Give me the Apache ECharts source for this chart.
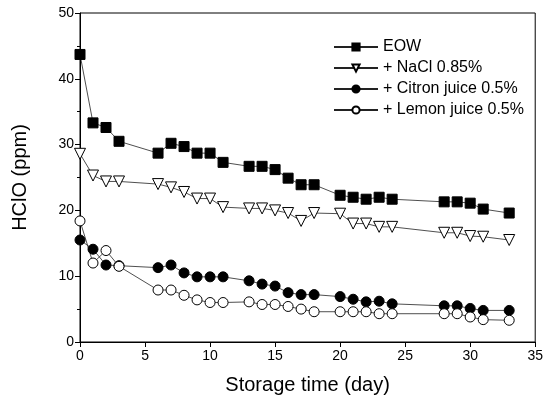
<!DOCTYPE html>
<html><head><meta charset="utf-8">
<script src="https://cdn.jsdelivr.net/npm/echarts@6/dist/echarts.min.js"></script>
<style>html,body{margin:0;padding:0;background:#fff}#c{width:546px;height:409px}</style>
</head><body><div id="c"></div>
<script>
var days = [0,1,2,3,6,7,8,9,10,11,13,14,15,16,17,18,20,21,22,23,24,28,29,30,31,33];
var eow = [43.7,33.3,32.6,30.5,28.7,30.2,29.7,28.7,28.7,27.3,26.7,26.7,26.2,24.9,23.9,23.9,22.3,22.0,21.7,22.0,21.7,21.3,21.3,21.1,20.2,19.6];
var nacl = [28.6,25.3,24.4,24.4,24.0,23.5,22.8,21.8,21.8,20.5,20.3,20.3,20.0,19.6,18.4,19.6,19.5,18.0,18.0,17.5,17.5,16.6,16.6,16.1,16.0,15.5];
var citron = [15.5,14.1,11.7,11.6,11.3,11.7,10.5,9.9,9.9,9.9,9.3,8.8,8.5,7.5,7.2,7.2,6.9,6.5,6.1,6.2,5.8,5.5,5.5,5.1,4.8,4.8];
var lemon = [18.4,12.0,13.9,11.5,7.9,7.9,7.1,6.4,6.0,6.0,6.1,5.7,5.7,5.4,5.0,4.6,4.6,4.6,4.6,4.3,4.3,4.3,4.3,3.8,3.4,3.3];
var names = ['EOW','+ NaCl 0.85%','+ Citron juice 0.5%','+ Lemon juice 0.5%'];

function pairs(v){ return days.map(function(d,i){ return [d, v[i]]; }); }
var font = 'Liberation Sans, Arial, sans-serif';
function ser(name, vals, symbol, fill, size, rot){
  return {
    name: name, type: 'line', data: pairs(vals),
    symbol: symbol, symbolSize: size, symbolRotate: rot || 0,
    lineStyle: {color: '#222', width: 0.8},
    itemStyle: {color: fill, borderColor: '#000', borderWidth: 1},
    emphasis: {disabled: true}, animation: false
  };
}
var chart = echarts.init(document.getElementById('c'));
chart.setOption({
  animation: false,
  grid: {left: 80, right: 8, top: 13, bottom: 67, show: true, borderColor: '#000', borderWidth: 1},
  legend: {
    orient: 'vertical', left: 328, top: 34, itemWidth: 44, itemHeight: 9, itemGap: 5,
    textStyle: {fontFamily: font, fontSize: 16, color: '#000', padding: [0,0,0,0]},
    data: names
  },
  xAxis: {
    type: 'value', min: 0, max: 35, interval: 5,
    name: 'Storage time (day)', nameLocation: 'middle', nameGap: 33,
    nameTextStyle: {fontFamily: font, fontSize: 20, color: '#000'},
    axisLine: {lineStyle: {color: '#000', width: 1}},
    axisTick: {show: true, inside: false, length: 5, lineStyle: {color: '#000'}},
    axisLabel: {fontFamily: font, fontSize: 14, color: '#000', margin: 7},
    splitLine: {show: false}
  },
  yAxis: {
    type: 'value', min: 0, max: 50, interval: 10,
    name: 'HClO (ppm)', nameLocation: 'middle', nameGap: 50,
    nameTextStyle: {fontFamily: font, fontSize: 20, color: '#000'},
    axisLine: {show: true, lineStyle: {color: '#000', width: 1}},
    axisTick: {show: true, inside: false, length: 5, lineStyle: {color: '#000'}},
    minorTick: {show: true, splitNumber: 2, length: 3, lineStyle: {color: '#000'}},
    axisLabel: {fontFamily: font, fontSize: 14, color: '#000', margin: 6},
    splitLine: {show: false}
  },
  series: [
    ser(names[0], eow, 'rect', '#000', 10),
    ser(names[1], nacl, 'triangle', '#fff', 11, 180),
    ser(names[2], citron, 'circle', '#000', 10),
    ser(names[3], lemon, 'circle', '#fff', 10)
  ]
});
</script></body></html>
